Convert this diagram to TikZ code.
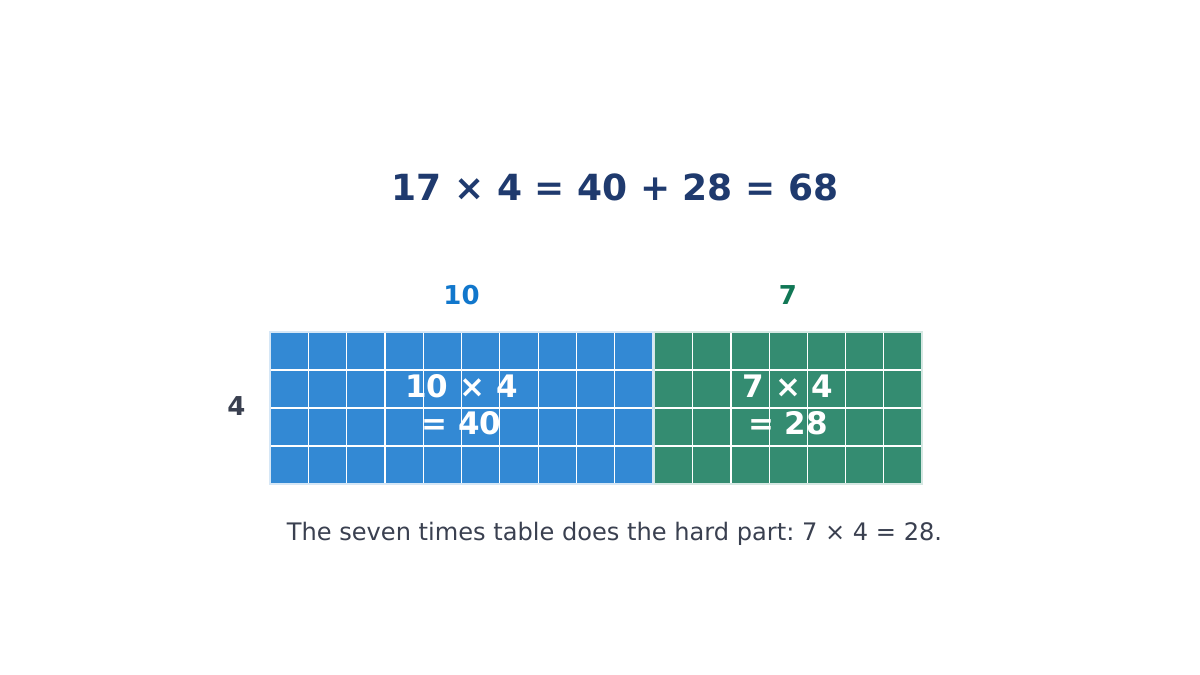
\documentclass[tikz,border=0pt]{standalone}
\usepackage{fontspec}
\setmainfont{DejaVu Sans}
\frenchspacing
\definecolor{titlec}{HTML}{1F3A6E}
\definecolor{bluef}{HTML}{3389D4}
\definecolor{greenf}{HTML}{348C71}
\definecolor{bluelab}{HTML}{1177CC}
\definecolor{greenlab}{HTML}{117755}
\definecolor{darkg}{HTML}{3A4050}
\begin{document}
\begin{tikzpicture}[x=1pt,y=-1pt,
  lab/.style={inner sep=0pt,anchor=base,font=\bfseries\fontsize{26}{31}\selectfont},
  inlab/.style={inner sep=0pt,anchor=center,align=center,text=white,font=\bfseries\fontsize{31}{37}\selectfont},
  gridline/.style={draw=white,line width=1.2pt}]
\useasboundingbox[fill=white] (0,0) rectangle (1200,675);
% blue block
\fill[bluef] (270,332) rectangle (653,484);
\foreach \i in {1,...,9} \draw[gridline] (270+\i*38.3,332) -- (270+\i*38.3,484);
\foreach \j in {1,2,3} \draw[gridline] (270,332+\j*38) -- (653,332+\j*38);
\draw[draw=bluef!20,line width=1.8pt] (270,332) rectangle (653,484);
% green block
\fill[greenf] (654.5,332) rectangle (922,484);
\foreach \i in {1,...,6} \draw[gridline] (654.5+\i*38.2,332) -- (654.5+\i*38.2,484);
\foreach \j in {1,2,3} \draw[gridline] (654.5,332+\j*38) -- (922,332+\j*38);
\draw[draw=greenf!20,line width=1.8pt] (654.5,332) rectangle (922,484);
% texts
\node[inner sep=0pt,anchor=base,text=titlec,font=\bfseries\fontsize{36}{43}\selectfont] (title) at (615,200) {17 × 4 = 40 + 28 = 68};
\node[lab,text=bluelab] (ten) at (461.5,304) {10};
\node[lab,text=greenlab] (seven) at (788,304) {7};
\node[lab,text=darkg] (four) at (236.5,415) {4};
\node[inlab] (bluetxt) at (461.5,405) {10 × 4\\= 40};
\node[inlab] (greentxt) at (788,405) {7 × 4\\= 28};
\node[inner sep=0pt,anchor=base,text=darkg,font=\fontsize{24.1}{29}\selectfont] (caption) at (614.5,540) {The seven times table does the hard part: 7 × 4 = 28.};
\end{tikzpicture}
\end{document}
